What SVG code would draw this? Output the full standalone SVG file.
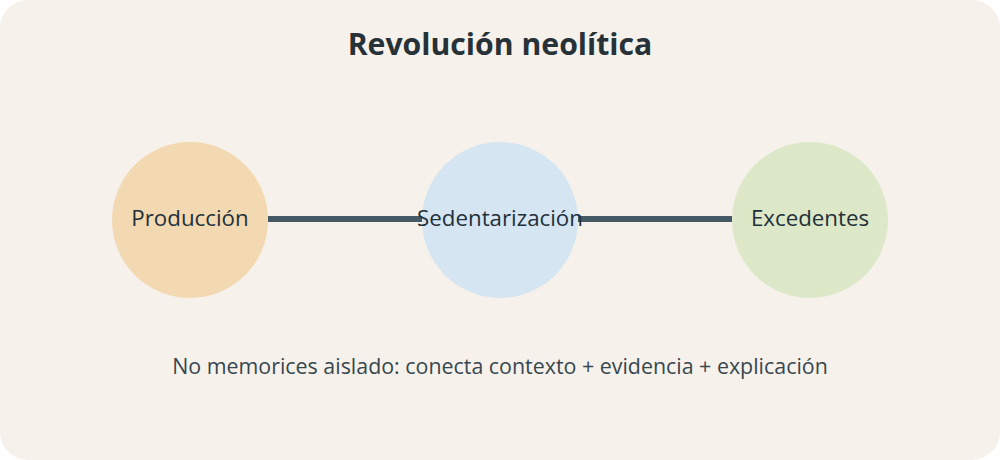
<svg xmlns="http://www.w3.org/2000/svg" width="1000" height="460" viewBox="0 0 1000 460">
<style>
.node-label{font-family:"Open Sans","Noto Sans","Liberation Sans",sans-serif;font-size:22.3px;fill:#22303a;text-anchor:middle}
.title{font-family:"Open Sans","Noto Sans","Liberation Sans",sans-serif;font-size:30.2px;font-weight:bold;fill:#263238;text-anchor:middle}
.note{font-family:"Open Sans","Noto Sans","Liberation Sans",sans-serif;font-size:21.4px;fill:#37474f;text-anchor:middle}
.edge{stroke:#455a64;stroke-width:6;fill:none}
</style>
<rect x="0" y="0" width="1000" height="460" fill="#ffffff"/>
<rect x="0" y="0" width="1000" height="460" rx="28" ry="28" fill="#f6f1eb"/>
<text class="title" x="500" y="55">Revolución neolítica</text>
<g id="connectors">
<line class="edge" x1="268" y1="219" x2="422" y2="219"/>
<line class="edge" x1="578" y1="219" x2="732" y2="219"/>
</g>
<g id="produccion">
<circle cx="190" cy="220" r="78" fill="#f3d9b1"/>
<text class="node-label" x="190" y="226">Producción</text>
</g>
<g id="sedentarizacion">
<circle cx="500" cy="220" r="78" fill="#d5e5f2"/>
<text class="node-label" x="500" y="226">Sedentarización</text>
</g>
<g id="excedentes">
<circle cx="810" cy="220" r="78" fill="#dde8c9"/>
<text class="node-label" x="810" y="226">Excedentes</text>
</g>
<text class="note" x="500" y="374">No memorices aislado: conecta contexto + evidencia + explicación</text>
</svg>
